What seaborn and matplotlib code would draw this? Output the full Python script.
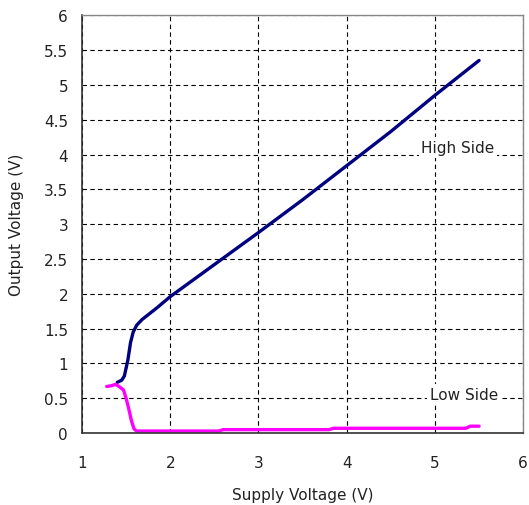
import numpy as np
import pandas as pd
import matplotlib.pyplot as plt
import seaborn as sns

# Supply voltage (V) vs output voltage (V)
high_supply = [1.40, 1.45, 1.48, 1.52, 1.55, 1.58, 1.62, 1.68, 1.75, 1.85, 2.0, 2.5, 3.0, 3.5, 4.0, 4.5, 5.0, 5.5]
high_output = [0.73, 0.76, 0.82, 1.05, 1.30, 1.45, 1.55, 1.63, 1.70, 1.80, 1.96, 2.42, 2.88, 3.35, 3.84, 4.33, 4.85, 5.35]

low_supply = [1.28, 1.33, 1.38, 1.42, 1.47, 1.50, 1.53, 1.56, 1.59, 1.62, 2.0, 2.55, 2.6, 3.8, 3.85, 5.35, 5.4, 5.5]
low_output = [0.67, 0.68, 0.70, 0.67, 0.62, 0.50, 0.35, 0.18, 0.06, 0.03, 0.03, 0.03, 0.05, 0.05, 0.07, 0.07, 0.10, 0.10]

df = pd.concat([
    pd.DataFrame({"Supply": high_supply, "Output": high_output, "Side": "High Side"}),
    pd.DataFrame({"Supply": low_supply, "Output": low_output, "Side": "Low Side"}),
])

sns.set_style("white")
plt.rcParams['font.family'] = ['DejaVu Sans']

fig = plt.figure(figsize=(5.29, 5.06), dpi=100)
ax = fig.add_axes([0.155, 0.142, 0.834, 0.826])

sns.lineplot(data=df, x="Supply", y="Output", hue="Side", sort=False, estimator=None,
             palette={"High Side": "#000080", "Low Side": "#FF00FF"}, linewidth=2.4,
             legend=False, ax=ax)

ax.set_xlim(1, 6)
ax.set_ylim(0, 6)
ax.set_xticks(np.arange(1, 7, 1))
ax.set_yticks(np.arange(0, 6.5, 0.5))
ax.set_xticklabels([str(v) for v in range(1, 7)])
ax.set_yticklabels(["0", "0.5", "1", "1.5", "2", "2.5", "3", "3.5", "4", "4.5", "5", "5.5", "6"])
ax.grid(True, color="black", linestyle=(0, (4, 3)), linewidth=0.8)
ax.tick_params(direction="in", length=4, labelsize=11, colors="#222222", pad=16)
ax.tick_params(axis="y", pad=10)

for side in ["left", "bottom"]:
    ax.spines[side].set_color("#333333")
    ax.spines[side].set_linewidth(1.2)
for side in ["top", "right"]:
    ax.spines[side].set_color("#888888")
    ax.spines[side].set_linewidth(1.0)

ax.set_xlabel("Supply Voltage (V)", fontsize=11, labelpad=12, color="#222222")
ax.set_ylabel("Output Voltage (V)", fontsize=11, labelpad=14, color="#222222")

ax.text(5.26, 4.1, "High Side", fontsize=11, ha="center", va="center", color="#222222",
        bbox=dict(facecolor="white", edgecolor="none", pad=2))
ax.text(5.33, 0.56, "Low Side", fontsize=11, ha="center", va="center", color="#222222",
        bbox=dict(facecolor="white", edgecolor="none", pad=2))

fig.savefig("out.png", dpi=100)
